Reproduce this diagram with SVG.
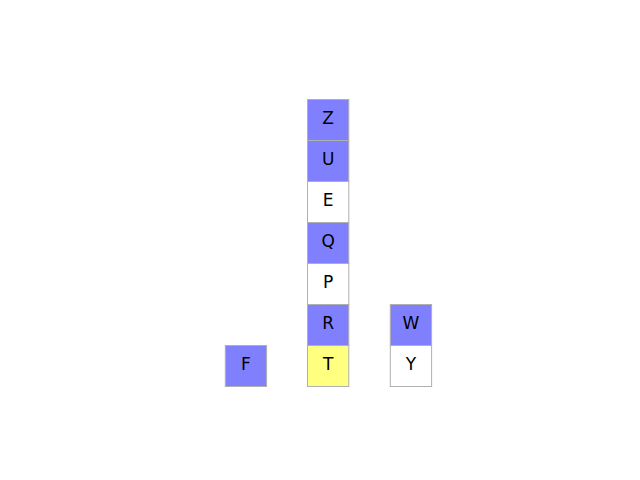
<svg xmlns="http://www.w3.org/2000/svg" width="640" height="480" viewBox="0 0 640 480">
<style>
rect{stroke:#b0b0b0;stroke-width:1}
.b{fill:#8080ff}.w{fill:#ffffff}.y{fill:#ffff80}
text{font-family:"DejaVu Sans",sans-serif;font-size:17px;text-anchor:middle;dominant-baseline:central;fill:#000}
</style>
<g id="connectors"></g>
<g id="Z"><rect class="b" x="307.5" y="99.5" width="41.3" height="41"/><text x="328.2" y="118">Z</text></g>
<g id="U"><rect class="b" x="307.5" y="140.5" width="41.3" height="41"/><text x="328.2" y="159">U</text></g>
<g id="E"><rect class="w" x="307.5" y="181.5" width="41.3" height="41"/><text x="328.2" y="200">E</text></g>
<g id="Q"><rect class="b" x="307.5" y="222.5" width="41.3" height="41"/><text x="328.2" y="241">Q</text></g>
<g id="P"><rect class="w" x="307.5" y="263.5" width="41.3" height="41"/><text x="328.2" y="282">P</text></g>
<g id="R"><rect class="b" x="307.5" y="304.5" width="41.3" height="41"/><text x="328.2" y="323">R</text></g>
<g id="T"><rect class="y" x="307.5" y="345.5" width="41.3" height="41"/><text x="328.2" y="364">T</text></g>
<g id="F"><rect class="b" x="225.3" y="345.5" width="41.3" height="41"/><text x="246" y="364">F</text></g>
<g id="W"><rect class="b" x="390.3" y="304.5" width="41.3" height="41"/><text x="411" y="323">W</text></g>
<g id="Y"><rect class="w" x="390.3" y="345.5" width="41.3" height="41"/><text x="411" y="364">Y</text></g>
</svg>
